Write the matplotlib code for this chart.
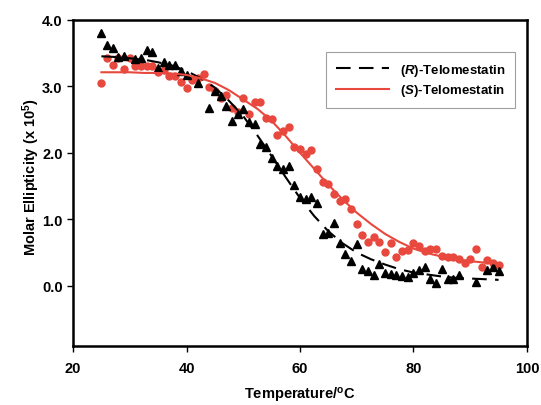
import matplotlib
matplotlib.use("Agg")
import matplotlib.pyplot as plt

plt.rcParams['font.family'] = ['Liberation Sans', 'DejaVu Sans']
plt.rcParams['font.weight'] = 'bold'
plt.rcParams['mathtext.fontset'] = 'custom'
plt.rcParams['mathtext.rm'] = 'Liberation Sans:bold'
plt.rcParams['mathtext.bf'] = 'Liberation Sans:bold'
plt.rcParams['mathtext.it'] = 'Liberation Sans:italic:bold'

# (R)-telomestatin melting data (triangles)
r_temp = [25, 26, 27, 28, 29, 31, 32, 33, 34, 35, 36, 37, 38, 39, 40, 42, 44, 45,
          46, 47, 48, 49, 50, 51, 52, 53, 54, 55, 56, 57, 58, 59, 60, 61, 62, 63,
          64, 65, 66, 67, 68, 69, 70, 71, 72, 73, 74, 75, 76, 77, 78, 79, 80, 81,
          82, 83, 84, 85, 86, 87, 88, 91, 93, 94, 95]
r_ell = [3.80, 3.62, 3.58, 3.44, 3.45, 3.41, 3.43, 3.54, 3.51, 3.28, 3.37, 3.32,
         3.32, 3.23, 3.17, 3.05, 2.67, 2.93, 2.85, 2.71, 2.48, 2.58, 2.66, 2.47,
         2.43, 2.13, 2.09, 1.92, 1.80, 1.75, 1.80, 1.52, 1.34, 1.30, 1.34, 1.24,
         0.78, 0.80, 0.94, 0.64, 0.48, 0.37, 0.63, 0.25, 0.22, 0.17, 0.33, 0.19,
         0.18, 0.16, 0.15, 0.13, 0.19, 0.24, 0.28, 0.11, 0.04, 0.26, 0.10, 0.11,
         0.17, 0.06, 0.24, 0.29, 0.23]

# (S)-telomestatin melting data (circles)
s_temp = list(range(25, 96))
s_ell = [3.05, 3.43, 3.32, 3.42, 3.26, 3.42, 3.30, 3.30, 3.30, 3.30, 3.22, 3.25,
         3.15, 3.15, 3.06, 2.98, 3.09, 3.12, 3.18, 2.99, 2.93, 2.82, 2.87, 2.67,
         2.61, 2.82, 2.58, 2.77, 2.77, 2.53, 2.51, 2.27, 2.33, 2.39, 2.09, 2.06,
         1.98, 2.04, 1.75, 1.56, 1.53, 1.38, 1.28, 1.31, 1.15, 0.93, 0.77, 0.66,
         0.74, 0.66, 0.51, 0.64, 0.43, 0.52, 0.54, 0.65, 0.60, 0.53, 0.55, 0.55,
         0.45, 0.43, 0.43, 0.40, 0.35, 0.40, 0.56, 0.29, 0.39, 0.35, 0.31]

# fitted curves
fit_temp = [25, 27.5, 30, 32.5, 35, 37.5, 40, 42.5, 45, 47.5, 50, 52.5, 55, 57.5,
            60, 62.5, 65, 67.5, 70, 72.5, 75, 77.5, 80, 82.5, 85, 87.5, 90, 92.5, 95]
r_fit = [3.45, 3.44, 3.42, 3.40, 3.36, 3.31, 3.23, 3.12, 2.98, 2.78, 2.55, 2.26,
         1.95, 1.63, 1.32, 1.05, 0.82, 0.64, 0.50, 0.40, 0.32, 0.25, 0.20, 0.17,
         0.14, 0.12, 0.11, 0.10, 0.09]
s_fit = [3.21, 3.21, 3.21, 3.20, 3.20, 3.19, 3.17, 3.12, 3.05, 2.94, 2.80, 2.66,
         2.48, 2.25, 2.00, 1.76, 1.52, 1.30, 1.10, 0.93, 0.78, 0.66, 0.56, 0.49,
         0.44, 0.40, 0.37, 0.35, 0.33]

red = '#e8483d'

fig = plt.figure(figsize=(5.41, 4.06), dpi=100)
ax = fig.add_axes([0.135, 0.146, 0.839, 0.803])

ax.plot(r_temp, r_ell, '^', color='black', markersize=5.5, zorder=3)
ax.plot(s_temp, s_ell, 'o', color=red, markersize=5, zorder=2)
ax.plot(fit_temp, r_fit, color='black', lw=1.5, dashes=(7, 4),
        label=r'($\mathit{R}$)-Telomestatin', zorder=4)
ax.plot(fit_temp, s_fit, color=red, lw=1.5,
        label=r'($\mathit{S}$)-Telomestatin', zorder=4)

ax.set_xlim(20, 100)
ax.set_ylim(-0.9, 4.0)
ax.set_xticks([20, 40, 60, 80, 100])
ax.set_yticks([0, 1, 2, 3, 4])
ax.set_yticklabels(['0.0', '1.0', '2.0', '3.0', '4.0'])
ax.tick_params(direction='out', length=4, width=1, labelsize=10.5)
ax.tick_params(axis='x', pad=7)
for s in ax.spines.values():
    s.set_linewidth(1.8)

ax.set_xlabel('Temperature/$^{\\mathrm{o}}$C', fontsize=10.5, fontweight='bold')
ax.set_ylabel('Molar Ellipticity (x 10$^{5}$)', fontsize=10.5, fontweight='bold')
ax.xaxis.set_label_coords(0.5, -0.12)
ax.yaxis.set_label_coords(-0.068, 0.52)

leg = ax.legend(loc='upper right', bbox_to_anchor=(0.974, 0.901), fontsize=9.5,
                frameon=True, fancybox=False, handlelength=4.0, borderpad=0.75,
                labelspacing=0.35, handletextpad=0.8, borderaxespad=0)
leg.get_frame().set_edgecolor('#888888')
leg.get_frame().set_linewidth(0.8)

fig.savefig('out.png', dpi=100)
